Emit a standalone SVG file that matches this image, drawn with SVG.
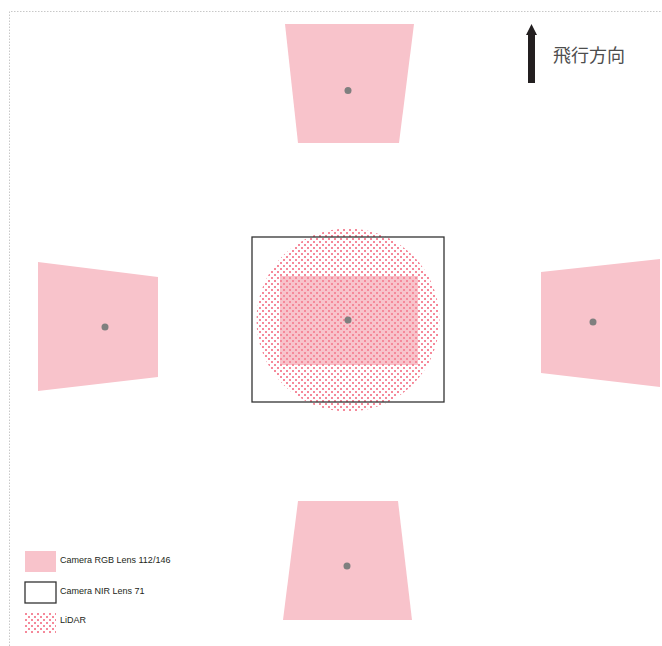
<svg xmlns="http://www.w3.org/2000/svg" width="662" height="646" viewBox="0 0 662 646">
<style>
.rgb{fill:#f8c3cb}
.pt{fill:#7f7f7f}
.nir{fill:none;stroke:#333;stroke-width:1.3}
.lidar{fill:url(#dots)}
.lbl{font-family:"Liberation Sans",Arial,sans-serif;font-size:9px;fill:#231f20}
.dir{font-family:"Noto Sans CJK JP","Noto Sans CJK SC",sans-serif;font-size:18px;fill:#4d4d4d}
</style>
<defs>
<pattern id="dots" width="6" height="6" patternUnits="userSpaceOnUse">
<rect x="1" y="1" width="2" height="2" fill="#f5899a"/>
<rect x="4" y="4" width="2" height="2" fill="#f5899a"/>
</pattern>
</defs>
<rect width="662" height="646" fill="#fff"/>
<path d="M9.5 646 V11.5 H662" fill="none" stroke="#c8c8c8" stroke-width="1" stroke-dasharray="1.5 1.5"/>
<g id="cam-top">
<polygon class="rgb" points="285,24 414,24 399,143 298,143"/>
<circle class="pt" cx="348" cy="90.5" r="3.5"/>
</g>
<g id="cam-bottom">
<polygon class="rgb" points="298,501 398,501 412,620 283,620"/>
<circle class="pt" cx="347" cy="566" r="3.5"/>
</g>
<g id="cam-left">
<polygon class="rgb" points="38,262 158,277 158,377 38,391"/>
<circle class="pt" cx="105" cy="327" r="3.5"/>
</g>
<g id="cam-right">
<polygon class="rgb" points="541,272 660,259 660,387 541,373"/>
<circle class="pt" cx="593" cy="322" r="3.5"/>
</g>
<g id="center">
<rect class="rgb" x="280" y="276" width="138" height="89"/>
<circle class="lidar" cx="348" cy="320" r="91.5"/>
<rect class="nir" x="252" y="237" width="192" height="165"/>
<circle class="pt" cx="348" cy="320" r="3.5"/>
</g>
<g id="direction">
<polygon points="528,83 528,35 526,35 531.5,24 537,35 535,35 535,83" fill="#231f20"/>
<text class="dir" x="553" y="62">飛行方向</text>
</g>
<g id="legend">
<rect class="rgb" x="25" y="551" width="31" height="21"/>
<text class="lbl" x="60" y="563">Camera RGB Lens 112/146</text>
<rect class="nir" x="25" y="582" width="31" height="21"/>
<text class="lbl" x="60" y="594">Camera NIR Lens 71</text>
<rect class="lidar" x="25" y="613" width="31" height="20"/>
<text class="lbl" x="60" y="623">LiDAR</text>
</g>
<g id="connectors"/>
</svg>
